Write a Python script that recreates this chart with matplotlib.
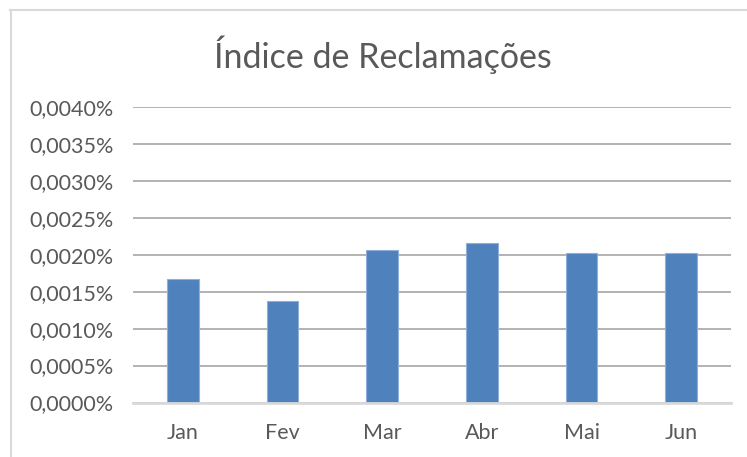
import matplotlib
matplotlib.use("Agg")
import matplotlib.pyplot as plt
from matplotlib.lines import Line2D
from matplotlib.ticker import FuncFormatter

# monthly complaint index, in percent
meses = ["Jan", "Fev", "Mar", "Abr", "Mai", "Jun"]
indice = [0.00167, 0.00137, 0.00206, 0.00216, 0.00203, 0.00202]
ticks_y = [0.0000, 0.0005, 0.0010, 0.0015, 0.0020, 0.0025, 0.0030, 0.0035, 0.0040]

W, H = 747, 457
fig = plt.figure(figsize=(W / 100, H / 100), dpi=100)
fig.patch.set_facecolor("white")

# chart frame (only top and left edges visible in the crop)
fig.add_artist(Line2D([10 / W, 1], [1 - 9.5 / H, 1 - 9.5 / H], color="#d9d9d9", lw=1.5))
fig.add_artist(Line2D([10.5 / W, 10.5 / W], [0, 1 - 9.5 / H], color="#d9d9d9", lw=1.5))

ax = fig.add_axes([133 / W, 1 - 402.5 / H, (731 - 133) / W, (402.5 - 107) / H])
x = range(len(meses))
ax.bar(x, indice, width=0.32, color="#4f81bd", edgecolor="#8eb0da", linewidth=0.8, zorder=3)

ax.set_xlim(-0.5, len(meses) - 0.5)
ax.set_ylim(0, 0.0040)
ax.set_yticks(ticks_y)
ax.yaxis.set_major_formatter(FuncFormatter(lambda v, p: f"{v:.4f}%".replace(".", ",")))
ax.set_xticks(list(x))
ax.set_xticklabels(meses)

ax.grid(axis="y", color="#a6a6a6", linewidth=1.2, zorder=0)
for s in ["top", "right", "left"]:
    ax.spines[s].set_visible(False)
ax.spines["bottom"].set_color("#d9d9d9")
ax.spines["bottom"].set_linewidth(2)
ax.spines["bottom"].set_zorder(4)
ax.tick_params(length=0, labelsize=15.5, labelcolor="#595959")
ax.tick_params(axis="y", pad=14)
ax.tick_params(axis="x", pad=15)
for lab in ax.get_xticklabels() + ax.get_yticklabels():
    lab.set_family("Lato")

fig.text(383 / W, 1 - 55 / H, "Índice de Reclamações", ha="center", va="center",
         fontsize=24.5, color="#595959", family="Lato")

fig.savefig("out.png", dpi=100)
